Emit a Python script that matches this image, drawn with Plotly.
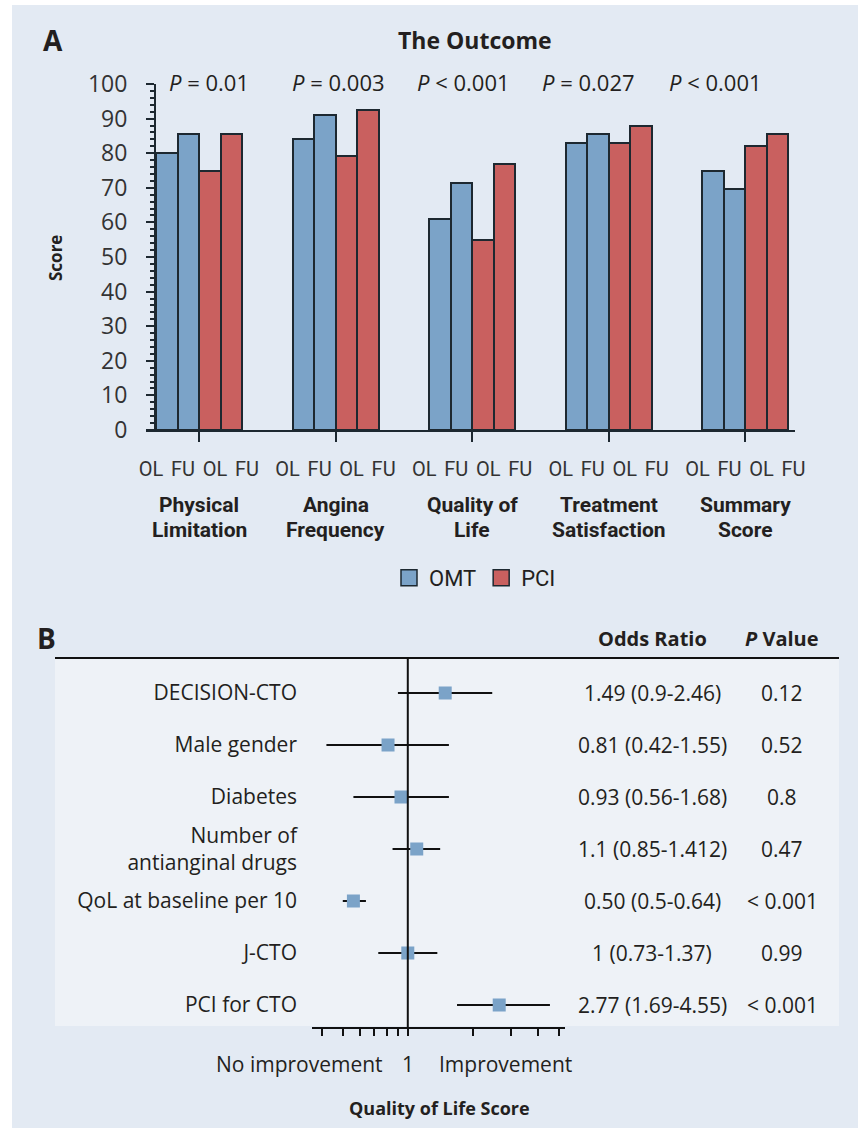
import plotly.graph_objects as go

# ---------------- data: panel A ----------------
cat_line1 = ["Physical", "Angina", "Quality of", "Treatment", "Summary"]
cat_line2 = ["Limitation", "Frequency", "Life", "Satisfaction", "Score"]
timepoints = ["OL", "FU", "OL", "FU"]
omt_ol = [80, 84, 61, 83, 75]
omt_fu = [85.5, 91, 71.3, 85.5, 69.7]
pci_ol = [75, 79.2, 55, 83, 82]
pci_fu = [85.5, 92.5, 76.8, 88, 85.5]
p_labels = ["<i>P</i> = 0.01", "<i>P</i> = 0.003", "<i>P</i> &lt; 0.001",
            "<i>P</i> = 0.027", "<i>P</i> &lt; 0.001"]
y_ticks = [0, 10, 20, 30, 40, 50, 60, 70, 80, 90, 100]

# ---------------- data: panel B ----------------
predictors = ["DECISION-CTO", "Male gender", "Diabetes", "Number of<br>antianginal drugs",
              "QoL at baseline per 10", "J-CTO", "PCI for CTO"]
or_point = [1.49, 0.81, 0.93, 1.1, 0.56, 1.0, 2.65]
ci_low = [0.9, 0.42, 0.56, 0.85, 0.5, 0.73, 1.69]
ci_high = [2.46, 1.55, 1.55, 1.412, 0.64, 1.37, 4.55]
or_labels = ["1.49 (0.9-2.46)", "0.81 (0.42-1.55)", "0.93 (0.56-1.68)", "1.1 (0.85-1.412)",
             "0.50 (0.5-0.64)", "1 (0.73-1.37)", "2.77 (1.69-4.55)"]
p_values = ["0.12", "0.52", "0.8", "0.47", "&lt; 0.001", "0.99", "&lt; 0.001"]
forest_ticks = [0.4, 0.5, 0.6, 0.7, 0.8, 0.9, 1, 2, 3, 4, 5]

# ---------------- layout helpers ----------------
W, H = 858, 1131
def px(x):
    return x / W
def py(y):
    return 1 - y / H

FONT = "Open Sans, Noto Sans, sans-serif"
COND = "Roboto, Open Sans, sans-serif"
TXT = "#231f20"
BLUE = "#7ba3c8"
RED = "#c9605f"
EDGE = "#1d2830"

G = 136.6            # px per group unit
BW = 21.5 / G        # bar width in axis units
LBL = 32 / G         # spacing of OL/FU labels
n = len(cat_line1)
XL, XR = 146, 795
xr = [(XL - 199) / G, (XR - 199) / G]

omt_x, omt_y, pci_x, pci_y = [], [], [], []
for i in range(n):
    omt_x += [i - 1.5 * BW, i - 0.5 * BW]
    omt_y += [omt_ol[i], omt_fu[i]]
    pci_x += [i + 0.5 * BW, i + 1.5 * BW]
    pci_y += [pci_ol[i], pci_fu[i]]

fig = go.Figure()
fig.add_trace(go.Bar(x=omt_x, y=omt_y, width=BW, name="OMT", showlegend=False,
                     marker=dict(color=BLUE, line=dict(color=EDGE, width=2))))
fig.add_trace(go.Bar(x=pci_x, y=pci_y, width=BW, name="PCI", showlegend=False,
                     marker=dict(color=RED, line=dict(color=EDGE, width=2))))
# legend entries
for name, col in [("OMT", BLUE), ("PCI", RED)]:
    fig.add_trace(go.Scatter(x=[None], y=[None], mode="markers", name=name,
                             marker=dict(symbol="square", size=18, color=col,
                                         line=dict(color=EDGE, width=1.5))))

# forest plot
rows = list(range(len(predictors)))
fig.add_trace(go.Scatter(
    x=or_point, y=rows, mode="markers", xaxis="x3", yaxis="y3", showlegend=False,
    marker=dict(symbol="square", size=13, color=BLUE),
    error_x=dict(type="data", symmetric=False,
                 array=[h - p for h, p in zip(ci_high, or_point)],
                 arrayminus=[p - l for p, l in zip(or_point, ci_low)],
                 color="#111111", thickness=2, width=0)))

lbl_vals, lbl_text = [], []
for i in range(n):
    for k, t in enumerate(timepoints):
        lbl_vals.append(i + (k - 1.5) * LBL)
        lbl_text.append(t)

row0, rowstep = 693, 52
y3r = [(1027 - row0) / rowstep, (658 - row0) / rowstep]

fig.update_layout(
    template="none",
    width=W, height=H, margin=dict(l=0, r=0, t=0, b=0, pad=0), autosize=False,
    paper_bgcolor="white", plot_bgcolor="rgba(0,0,0,0)",
    barmode="overlay", bargap=0,
    font=dict(family=FONT, color=TXT, size=20),
    xaxis=dict(domain=[px(XL), px(XR)], range=xr, anchor="y", automargin=False,
               showline=True, linecolor=EDGE, linewidth=2, showgrid=False, zeroline=False,
               tickvals=lbl_vals, ticktext=lbl_text, ticks="", ticklabelstandoff=20,
               tickfont=dict(family=COND, size=20, color="#333333"),
               minor=dict(tickvals=list(range(n)), ticks="outside", ticklen=10,
                          tickwidth=2, tickcolor=EDGE, showgrid=False)),
    yaxis=dict(domain=[py(430), py(84)], range=[0, 100], anchor="free", position=px(155),
               automargin=False,
               showline=True, linecolor=EDGE, linewidth=2, showgrid=False, zeroline=False,
               tickvals=y_ticks, ticks="outside", ticklen=8, tickwidth=2, tickcolor=EDGE,
               minor=dict(dtick=2, ticks="outside", ticklen=4, tickwidth=1.5, tickcolor=EDGE,
                          showgrid=False),
               ticklabelstandoff=14,
               tickfont=dict(family=FONT, size=23, color="#333333")),
    xaxis3=dict(domain=[px(312), px(565)], type="log", automargin=False,
                range=[(312 - 407.8) / 216, (565 - 407.8) / 216], anchor="y3",
                showline=True, linecolor="#111111", linewidth=2, showgrid=False, zeroline=False,
                tickvals=forest_ticks, ticks="outside", ticklen=7, tickwidth=2,
                tickcolor="#111111", showticklabels=False),
    yaxis3=dict(domain=[py(1027), py(658)], range=y3r, anchor="x3", automargin=False,
                showline=False, showgrid=False, zeroline=False,
                tickvals=rows, ticktext=predictors, ticks="", ticklabelstandoff=14,
                tickfont=dict(family=FONT, size=21, color=TXT)),
    legend=dict(orientation="h", x=px(475), xanchor="center", y=py(578), yanchor="middle",
                bgcolor="rgba(0,0,0,0)", font=dict(family=COND, size=22, color=TXT),
                itemwidth=30, traceorder="normal"),
)

shapes = [
    dict(type="rect", xref="paper", yref="paper", x0=px(12), x1=1, y0=py(1128), y1=py(5),
         fillcolor="#e3eaf3", line=dict(width=0), layer="below"),
    dict(type="rect", xref="paper", yref="paper", x0=px(55), x1=px(839), y0=py(1026), y1=py(658),
         fillcolor="#eef2f7", line=dict(width=0), layer="below"),
    dict(type="line", xref="paper", yref="paper", x0=px(55), x1=px(839), y0=py(658), y1=py(658),
         line=dict(color="#111111", width=2)),
    dict(type="line", xref="x3", yref="paper", x0=1, x1=1, y0=py(1027), y1=py(658),
         line=dict(color="#111111", width=2)),
]
fig.update_layout(shapes=shapes)

def note(text, x, y, size, family=FONT, xref="paper", yref="paper", xanchor="center", **kw):
    return dict(text=text, x=x, y=y, xref=xref, yref=yref, xanchor=xanchor, yanchor="middle",
                showarrow=False, font=dict(size=size, family=family, color=TXT), **kw)

ann = []
ann.append(note("<b>A</b>", px(53), py(40), 28))
ann.append(note("<b>B</b>", px(46), py(638), 28))
ann.append(note("<b>The Outcome</b>", px(475), py(40), 23))
ann.append(note("<b>Score</b>", px(55), py(258), 17, textangle=-90))
p_x = [209, 338, 463, 588, 715]
for i in range(n):
    ann.append(note(p_labels[i], (p_x[i] - 199) / G, py(82), 22, xref="x"))
    ann.append(note("<b>" + cat_line1[i] + "</b>", i, py(505), 21, family=COND, xref="x"))
    ann.append(note("<b>" + cat_line2[i] + "</b>", i, py(530), 21, family=COND, xref="x"))

ann.append(note("<b>Odds Ratio</b>", px(652), py(638), 20))
ann.append(note("<b><i>P</i> Value</b>", px(782), py(638), 20))
for r in rows:
    ann.append(note(or_labels[r], px(652), r, 21, yref="y3"))
    ann.append(note(p_values[r], px(782), r, 21, yref="y3"))

ann.append(note("No improvement", px(385), py(1064), 21, xanchor="right"))
ann.append(note("1", 0, py(1064), 21, xref="x3"))
ann.append(note("Improvement", px(437), py(1064), 21, xanchor="left"))
ann.append(note("<b>Quality of Life Score</b>", px(440), py(1108), 18))

fig.update_layout(annotations=ann)
fig.write_html("out.html", config={"displayModeBar": False},
               post_script="document.body.style.margin='0';")
